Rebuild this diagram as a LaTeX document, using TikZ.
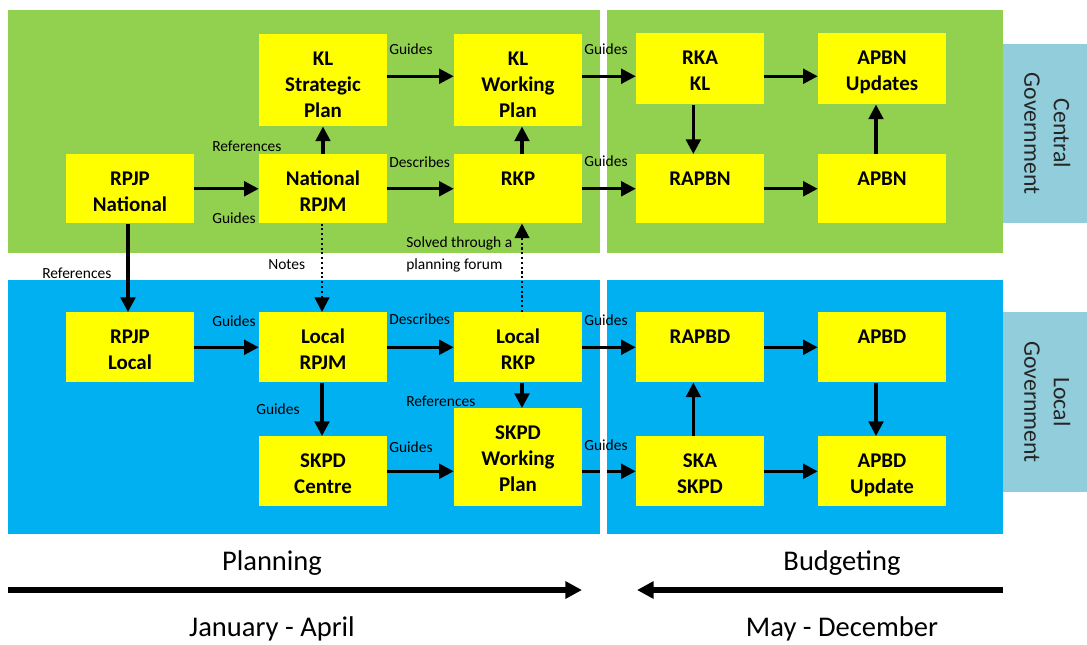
\documentclass[tikz,border=0pt]{standalone}
\usepackage{fontspec}
\setmainfont{Carlito}
\usetikzlibrary{arrows.meta}

\definecolor{plangreen}{HTML}{92D050}
\definecolor{planblue}{HTML}{00B0F0}
\definecolor{planyellow}{HTML}{FFFF00}
\definecolor{govcolor}{HTML}{92CDDC}

% A yellow box with its text set from the top edge
\newcommand\planbox[5]{%
  \node[planbox, minimum height=#4, anchor=north] (#1) at (#2,#3) {};
  \node[boxtext, anchor=north] (#1-t) at (#2,#3+14) {\rule{0pt}{12.6pt}#5};
}

\begin{document}
\begin{tikzpicture}[x=0.75pt, y=-0.75pt,
  planbox/.style={fill=planyellow, draw=none, minimum width=96pt, inner sep=0pt},
  boxtext/.style={font=\bfseries\fontsize{15.7}{19.5}\selectfont, align=center, inner sep=0pt},
  lbl/.style={font=\fontsize{11.6}{14}\selectfont, inner sep=0pt, anchor=west},
  govbox/.style={fill=govcolor, minimum width=63pt, inner sep=0pt, text=black!85,
    font=\fontsize{17.8}{22}\selectfont, align=center},
  conn/.style={line width=2.3pt, -{Triangle[length=11pt,width=11pt]}},
  dotconn/.style={line width=1.6pt, dash pattern=on 1.6pt off 2pt,
    -{Triangle[length=11pt,width=11pt]}},
  bigarrow/.style={line width=4.5pt, -{Triangle[length=12.5pt,width=12.5pt]}},
  phase/.style={font=\fontsize{21.4}{26}\selectfont, inner sep=0pt}]

\useasboundingbox (0,0) rectangle (1087,644);

% Background bands: central (green) and local (blue) government
\fill[plangreen] (8,10) rectangle (600,253);
\fill[plangreen] (607,10) rectangle (1003,253);
\fill[planblue] (8,280) rectangle (600,534);
\fill[planblue] (607,280) rectangle (1003,534);

% Side tabs
\node[govbox, minimum height=134.25pt] (central) at (1045,133.5)
  {\rotatebox{-90}{\begin{tabular}{c}Central\\Government\end{tabular}}};
\node[govbox, minimum height=135pt] (local) at (1045,402)
  {\rotatebox{-90}{\begin{tabular}{c}Local\\Government\end{tabular}}};

% Central government boxes
\planbox{klsp}{323}{34}{69pt}{KL\\Strategic\\Plan}
\planbox{klwp}{518}{34}{69pt}{KL\\Working\\Plan}
\planbox{rkakl}{700}{33}{53.25pt}{RKA\\KL}
\planbox{apbnu}{882}{33}{53.25pt}{APBN\\Updates}
\planbox{rpjpn}{130}{154}{51.75pt}{RPJP\\National}
\planbox{nrpjm}{323}{154}{51.75pt}{National\\RPJM}
\planbox{rkp}{518}{154}{51.75pt}{RKP}
\planbox{rapbn}{700}{154}{51.75pt}{RAPBN}
\planbox{apbn}{882}{154}{51.75pt}{APBN}

% Local government boxes
\planbox{rpjpl}{130}{312}{52.5pt}{RPJP\\Local}
\planbox{lrpjm}{323}{312}{52.5pt}{Local\\RPJM}
\planbox{lrkp}{518}{312}{52.5pt}{Local\\RKP}
\planbox{rapbd}{700}{312}{52.5pt}{RAPBD}
\planbox{apbd}{882}{312}{52.5pt}{APBD}
\planbox{skpdc}{323}{436}{52.5pt}{SKPD\\Centre}
\planbox{skpdwp}{518}{408}{73.5pt}{SKPD\\Working\\Plan}
\planbox{skaskpd}{700}{436}{52.5pt}{SKA\\SKPD}
\planbox{apbdu}{882}{436}{52.5pt}{APBD\\Update}

% Top row
\draw[conn] ([yshift=3pt]klsp.east) -- ([yshift=3pt]klsp.east -| klwp.west);
\draw[conn] ([yshift=3pt]klwp.east) -- ([yshift=3pt]klwp.east -| rkakl.west);
\draw[conn] ([yshift=3pt]klwp.east -| rkakl.east) -- ([yshift=3pt]klwp.east -| apbnu.west);

% Second row
\draw[conn] (rpjpn.east) -- (nrpjm.west);
\draw[conn] (nrpjm.east) -- (rkp.west);
\draw[conn] (rkp.east) -- (rapbn.west);
\draw[conn] (rapbn.east) -- (apbn.west);

% Upward and downward links in the central band
\draw[conn] (nrpjm.north) -- (klsp.south);
\draw[conn] ([xshift=3pt]rkp.north) -- ([xshift=3pt]rkp.north |- klwp.south);
\draw[conn] ([xshift=-5pt]rkakl.south) -- ([xshift=-5pt]rkakl.south |- rapbn.north);
\draw[conn] ([xshift=-4.5pt]apbn.north) -- ([xshift=-4.5pt]apbn.north |- apbnu.south);

% Links between the bands
\draw[conn] ([xshift=-1.5pt]rpjpn.south) -- ([xshift=-1.5pt]rpjpn.south |- rpjpl.north);
\draw[dotconn] ([xshift=-0.75pt]nrpjm.south) -- ([xshift=-0.75pt]nrpjm.south |- lrpjm.north);
\draw[dotconn] ([xshift=3pt]lrkp.north) -- ([xshift=3pt]lrkp.north |- rkp.south);

% Third row
\draw[conn] (rpjpl.east) -- (lrpjm.west);
\draw[conn] (lrpjm.east) -- (lrkp.west);
\draw[conn] (lrkp.east) -- (rapbd.west);
\draw[conn] (rapbd.east) -- (apbd.west);

% Links down to the bottom row
\draw[conn] ([xshift=-0.75pt]lrpjm.south) -- ([xshift=-0.75pt]lrpjm.south |- skpdc.north);
\draw[conn] ([xshift=3pt]lrkp.south) -- ([xshift=3pt]lrkp.south |- skpdwp.north);
\draw[conn] ([xshift=-5pt]skaskpd.north) -- ([xshift=-5pt]skaskpd.north |- rapbd.south);
\draw[conn] ([xshift=-4.5pt]apbd.south) -- ([xshift=-4.5pt]apbd.south |- apbdu.north);

% Bottom row
\draw[conn] (skpdc.east) -- (skpdc.east -| skpdwp.west);
\draw[conn] (skpdc.east -| skpdwp.east) -- (skpdc.east -| skaskpd.west);
\draw[conn] (skaskpd.east) -- (apbdu.west);
\fill[white] (600,465) rectangle (607,479);

% Connector labels
\node[lbl] (l1) at (389,49) {Guides};
\node[lbl] (l2) at (584,49) {Guides};
\node[lbl] (l3) at (212,146) {References};
\node[lbl] (l4) at (389,162) {Describes};
\node[lbl] (l5) at (584,161) {Guides};
\node[lbl] (l6) at (212,218) {Guides};
\node[lbl] (l7) at (406,243) {Solved through a};
\node[lbl] (l8) at (406,265) {planning forum};
\node[lbl] (l9) at (42,273) {References};
\node[lbl] (l10) at (268,265) {Notes};
\node[lbl] (l11) at (212,321) {Guides};
\node[lbl] (l12) at (389,319) {Describes};
\node[lbl] (l13) at (584,320) {Guides};
\node[lbl] (l14) at (256,409) {Guides};
\node[lbl] (l15) at (406,401) {References};
\node[lbl] (l16) at (389,447) {Guides};
\node[lbl] (l17) at (584,445) {Guides};

% Timeline
\coordinate (plan-s) at (8,590);
\coordinate (plan-e) at (582,590);
\coordinate (bud-s) at (1003,590);
\coordinate (bud-e) at (637,590);
\draw[bigarrow] (plan-s) -- (plan-e);
\draw[bigarrow] (bud-s) -- (bud-e);
\node[phase] (planning) at (272,563) {Planning};
\node[phase] (budgeting) at (842,563) {Budgeting};
\node[phase] (janapr) at (272,629) {January - April};
\node[phase] (maydec) at (842,629) {May - December};

\end{tikzpicture}
\end{document}
